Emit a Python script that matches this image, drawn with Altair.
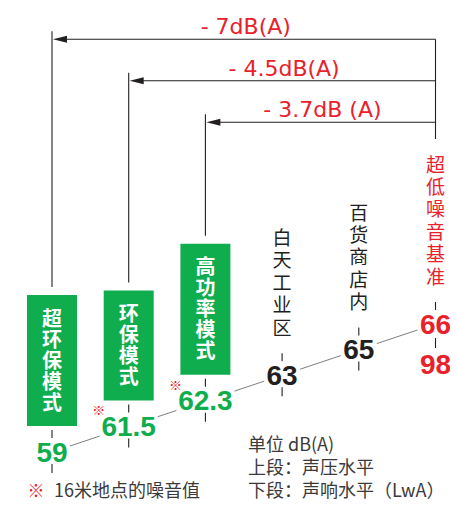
import altair as alt
import pandas as pd

# ---------------- data ----------------
modes = ["超环保模式", "环保模式", "高功率模式", "白天工业区", "百货商店内", "超低噪音基准"]
spl = [59, 61.5, 62.3, 63, 65, 66]                 # 上段：声压水平 dB(A)
kind = ["mode", "mode", "mode", "site", "site", "baseline"]
at_16m = [False, True, True, False, False, False]   # ※ 16米地点的噪音值
baseline_lwa = [98]                                 # 下段：声响水平 (LwA)
reduction_labels = ["- 7dB(A)", "- 4.5dB(A)", "- 3.7dB (A)"]
note_mark = "※"
footnote = "16米地点的噪音值"
legend_lines = ["单位 dB(A)", "上段：声压水平", "下段：声响水平（LwA）"]

# ---------------- style / layout ----------------
GREEN = "#10AD4E"
RED = "#E9212B"
BLACK = "#231F20"
GRAY = "#3A3A3A"
LINE = "#707070"
CJK = "Noto Sans CJK SC"
LAT = "Liberation Sans"

W, H, M = 442, 493, 8
X0, DX = 52, 76.7
Y0, DY = 452, 25.6
BOX_PITCH, SITE_PITCH = 21.0, 22.4

xs = alt.Scale(domain=[M, M + W], nice=False, zero=False)
ys = alt.Scale(domain=[M + H, M], nice=False, zero=False)


def X(f="x"):
    return alt.X(f"{f}:Q", scale=xs, axis=None)


def Y(f="y"):
    return alt.Y(f"{f}:Q", scale=ys, axis=None)


color_scale = alt.Scale(domain=["mode", "site", "baseline"], range=[GREEN, BLACK, RED])

n = len(modes)
cols = pd.DataFrame({"i": range(n), "name": modes, "spl": spl, "kind": kind, "note": at_16m})
cols["x"] = X0 + DX * cols["i"]
cols["y"] = Y0 - DY * cols["i"]
cols["num"] = cols["spl"].map(lambda v: f"{v:g}")

# vertical (stacked-character) labels: first line drawn at y, following lines below
labels, boxes = [], []
first_char_center = {}
for r in cols.itertuples():
    nch = len(r.name)
    if r.kind == "mode":
        last, pitch = r.y - 50, BOX_PITCH
    else:
        last, pitch = r.y - 48, SITE_PITCH
    first = last - (nch - 1) * pitch
    first_char_center[r.i] = first
    labels.append({"x": r.x, "y": first + 1.5, "lines": list(r.name), "kind": r.kind})
    if r.kind == "mode":
        boxes.append({"x": r.x - 25, "x2": r.x + 25, "y": first - 23, "y2": r.y - 26, "i": r.i})
labels = pd.DataFrame(labels)
boxes = pd.DataFrame(boxes)

# arrows (reduction from baseline to each mode)
base = cols.iloc[-1]
arrows = []
for k, lab in enumerate(reduction_labels):
    r = cols.iloc[k]
    ay = 39.3 + 41.5 * k
    box_top = boxes.loc[boxes.i == k, "y"].iloc[0]
    arrows.append({"k": k, "xl": r.x, "xr": base.x, "ay": ay, "lab": lab,
                   "mid": (r.x + base.x) / 2 + 2, "ly": ay - 5,
                   "vy1": ay - 8, "vy2": box_top - 8, "hx": r.x + 9, "tx": r.x + 8})
arrows = pd.DataFrame(arrows)
right_leader = pd.DataFrame({"x": [base.x], "y": [arrows.ay.iloc[0]],
                             "y2": [first_char_center[n - 1] - 25]})

# ticks around numbers
ticks = []
for r in cols.itertuples():
    ticks.append({"x": r.x, "y": r.y - 22, "y2": r.y - 14})
    if r.kind == "baseline":
        ticks.append({"x": r.x, "y": r.y + 14, "y2": r.y + 24})
    else:
        ticks.append({"x": r.x, "y": r.y + 12, "y2": r.y + 21})
ticks = pd.DataFrame(ticks)

# connecting line with gaps at numbers
segs = []
for i in range(n - 1):
    a, b = cols.iloc[i], cols.iloc[i + 1]
    ga = 18 if len(a.num) <= 2 else 29
    gb = 18 if len(b.num) <= 2 else 29
    slope = (b.y - a.y) / (b.x - a.x)
    segs.append({"x": a.x + ga, "y": a.y + slope * ga, "x2": b.x - gb, "y2": b.y - slope * gb})
segs = pd.DataFrame(segs)

lwa = pd.DataFrame({"x": [base.x], "y": [base.y + 41.5], "t": [f"{v:g}" for v in baseline_lwa]})
notes = cols[cols.note].assign(nx=lambda d: d.x - 30, ny=lambda d: d.y - 15, t=note_mark)
foot_mark = pd.DataFrame({"x": [36], "y": [492], "t": [note_mark]})
foot_text = pd.DataFrame({"x": [54], "y": [492], "t": [footnote]})
legend = pd.DataFrame({"x": [248] * len(legend_lines), "y": [446 + 23 * j for j in range(len(legend_lines))],
                       "t": legend_lines})

# ---------------- layers ----------------
leaders = alt.Chart(arrows).mark_rule(color=BLACK, strokeWidth=1.1).encode(
    x=X("xl"), y=Y("vy1"), y2="vy2:Q")
rleader = alt.Chart(right_leader).mark_rule(color=BLACK, strokeWidth=1.1).encode(
    x=X(), y=Y(), y2="y2:Q")
hlines = alt.Chart(arrows).mark_rule(color=BLACK, strokeWidth=1.1).encode(
    x=X("hx"), x2="xr:Q", y=Y("ay"))
heads = alt.Chart(arrows).mark_point(shape="M -1 0 L 1 -0.5 L 1 0.5 Z", filled=True, size=196,
                                     color=BLACK, opacity=1, strokeWidth=0).encode(
    x=X("tx"), y=Y("ay"))
alabels = alt.Chart(arrows).mark_text(font="DejaVu Sans", fontSize=22, color=RED, align="center",
                                      baseline="alphabetic").encode(
    x=X("mid"), y=Y("ly"), text="lab:N")

box_layer = alt.Chart(boxes).mark_rect(color=GREEN).encode(x=X(), x2="x2:Q", y=Y(), y2="y2:Q")
box_text = alt.Chart(labels[labels.kind == "mode"]).mark_text(
    font=CJK, fontSize=20, fontWeight="bold", color="white", align="center", baseline="middle",
    lineHeight=BOX_PITCH).encode(
    x=X(), y=Y(), text="lines:N")
site_text = alt.Chart(labels[labels.kind != "mode"]).mark_text(
    font=CJK, fontSize=19, align="center", baseline="middle", lineHeight=SITE_PITCH).encode(
    x=X(), y=Y(), text="lines:N", color=alt.Color("kind:N", scale=color_scale, legend=None))

tick_layer = alt.Chart(ticks).mark_rule(color=BLACK, strokeWidth=1.1).encode(x=X(), y=Y(), y2="y2:Q")
seg_layer = alt.Chart(segs).mark_rule(color=LINE, strokeWidth=0.9).encode(
    x=X(), y=Y(), x2="x2:Q", y2="y2:Q")
nums = alt.Chart(cols.assign(ty=cols.y + 1.5)).mark_text(
    font=LAT, fontSize=28, fontWeight="bold", align="center", baseline="middle").encode(
    x=X(), y=Y("ty"), text="num:N", color=alt.Color("kind:N", scale=color_scale, legend=None))
lwa_layer = alt.Chart(lwa).mark_text(font=LAT, fontSize=28, fontWeight="bold", color=RED,
                                     align="center", baseline="middle").encode(
    x=X(), y=Y(), text="t:N")
note_layer = alt.Chart(notes).mark_text(font=CJK, fontSize=13, color=RED, align="center",
                                        baseline="middle").encode(
    x=X("nx"), y=Y("ny"), text="t:N")
fm = alt.Chart(foot_mark).mark_text(font=CJK, fontSize=17, color=RED, align="center",
                                    baseline="middle").encode(x=X(), y=Y(), text="t:N")
ft = alt.Chart(foot_text).mark_text(font=CJK, fontSize=18, color=GRAY, align="left",
                                    baseline="middle").encode(x=X(), y=Y(), text="t:N")
lg = alt.Chart(legend).mark_text(font=CJK, fontSize=18, color=GRAY, align="left",
                                 baseline="middle").encode(x=X(), y=Y(), text="t:N")

chart = alt.layer(
    leaders, rleader, hlines, heads, alabels,
    box_layer, box_text, site_text,
    tick_layer, seg_layer, nums, lwa_layer, note_layer,
    fm, ft, lg,
).properties(
    width=W, height=H, background="white", padding=0,
    autosize=alt.AutoSizeParams(type="none"),
).configure_view(stroke=None)

chart.save("out.html", embed_options={"renderer": "svg", "actions": False})
